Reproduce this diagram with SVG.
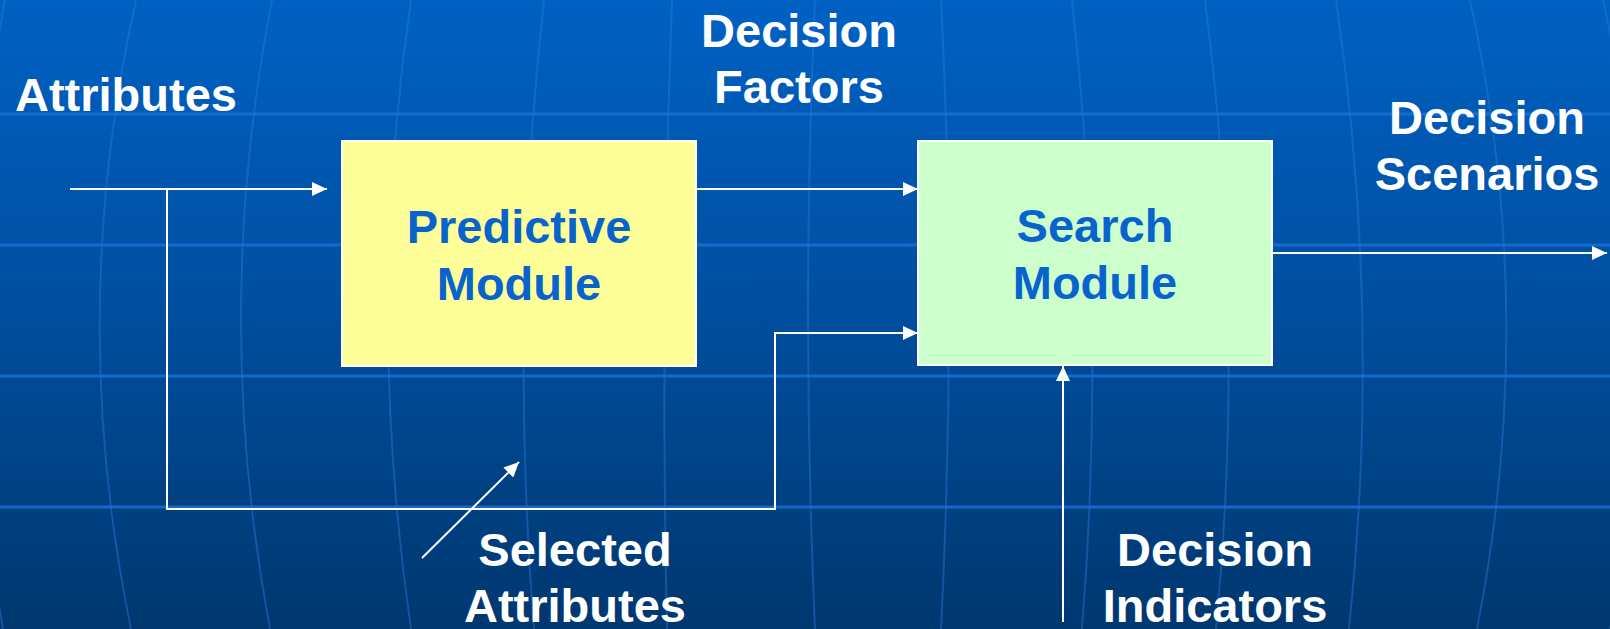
<svg xmlns="http://www.w3.org/2000/svg" width="1610" height="629" viewBox="0 0 1610 629">
  <style>
    .lbl { font-family: "Liberation Sans", Arial, sans-serif; font-weight: bold; font-size: 47px; fill: #ffffff; text-anchor: middle; }
    .mod { font-family: "Liberation Sans", Arial, sans-serif; font-weight: bold; font-size: 47px; fill: #0863cc; text-anchor: middle; }
    .box { stroke: #ffffff; stroke-width: 2; }
    .conn { fill: none; stroke: #ffffff; stroke-width: 2; }
    .hgrid { stroke: #1c74dc; stroke-width: 3; opacity: 0.75; }
    .vgrid { fill: none; stroke: #2a7fe0; stroke-width: 2; opacity: 0.4; }
  </style>
  <defs>
    <linearGradient id="bg" x1="0" y1="0" x2="0" y2="1">
      <stop offset="0" stop-color="#0061c3"/>
      <stop offset="0.5" stop-color="#004e9e"/>
      <stop offset="1" stop-color="#00376f"/>
    </linearGradient>
    <marker id="arrow" viewBox="0 0 15 14" markerWidth="15" markerHeight="14" refX="15" refY="7" orient="auto" markerUnits="userSpaceOnUse">
      <path d="M0,0 L15,7 L0,14 Z" fill="#ffffff"/>
    </marker>
  </defs>

  <g id="background">
    <rect x="0" y="0" width="1610" height="629" fill="url(#bg)"/>
    <g id="vertical-grid">
      <path class="vgrid" d="M5,0 Q-52,314 3,629"/>
      <path class="vgrid" d="M136,0 Q66,314 131,629"/>
      <path class="vgrid" d="M272,0 Q211,314 270,629"/>
      <path class="vgrid" d="M411,0 Q365,314 411,629"/>
      <path class="vgrid" d="M544,0 Q509,314 534,629"/>
      <path class="vgrid" d="M672,0 Q660,314 667,629"/>
      <path class="vgrid" d="M815,0 Q801,314 815,629"/>
      <path class="vgrid" d="M941,0 Q957,314 941,629"/>
      <path class="vgrid" d="M1072,0 Q1107,314 1082,629"/>
      <path class="vgrid" d="M1205,0 Q1246,314 1216,629"/>
      <path class="vgrid" d="M1336,0 Q1382,314 1349,629"/>
      <path class="vgrid" d="M1470,0 Q1539,314 1477,629"/>
      <path class="vgrid" d="M1603,0 Q1673,314 1610,629"/>
    </g>
    <g id="horizontal-grid">
      <line class="hgrid" x1="0" y1="114" x2="1610" y2="114"/>
      <line class="hgrid" x1="0" y1="245" x2="1610" y2="245"/>
      <line class="hgrid" x1="0" y1="376" x2="1610" y2="376"/>
      <line class="hgrid" x1="0" y1="507" x2="1610" y2="507"/>
    </g>
  </g>

  <g id="connectors">
    <line class="conn" x1="70" y1="189" x2="327" y2="189" marker-end="url(#arrow)"/>
    <path class="conn" d="M167,189 V509 H775 V333 H918" marker-end="url(#arrow)"/>
    <line class="conn" x1="696" y1="189" x2="918" y2="189" marker-end="url(#arrow)"/>
    <line class="conn" x1="1272" y1="253" x2="1607" y2="253" marker-end="url(#arrow)"/>
    <line class="conn" x1="1063" y1="622" x2="1063" y2="366" marker-end="url(#arrow)"/>
    <line class="conn" x1="422" y1="558" x2="519" y2="462" marker-end="url(#arrow)"/>
  </g>

  <g id="predictive-module">
    <rect class="box" x="342" y="141" width="354" height="225" fill="#ffff99"/>
    <text class="mod" x="519" y="243">Predictive</text>
    <text class="mod" x="519" y="300">Module</text>
  </g>

  <g id="search-module">
    <rect class="box" x="918" y="141" width="354" height="224" fill="#ccffcc"/>
    <text class="mod" x="1095" y="242">Search</text>
    <text class="mod" x="1095" y="299">Module</text>
  </g>

  <g id="label-attributes">
    <text class="lbl" x="126" y="111">Attributes</text>
  </g>
  <g id="label-decision-factors">
    <text class="lbl" x="799" y="47">Decision</text>
    <text class="lbl" x="799" y="103">Factors</text>
  </g>
  <g id="label-decision-scenarios">
    <text class="lbl" x="1487" y="134">Decision</text>
    <text class="lbl" x="1487" y="190">Scenarios</text>
  </g>
  <g id="label-selected-attributes">
    <text class="lbl" x="575" y="566">Selected</text>
    <text class="lbl" x="575" y="622">Attributes</text>
  </g>
  <g id="label-decision-indicators">
    <text class="lbl" x="1215" y="566">Decision</text>
    <text class="lbl" x="1215" y="622">Indicators</text>
  </g>
</svg>
